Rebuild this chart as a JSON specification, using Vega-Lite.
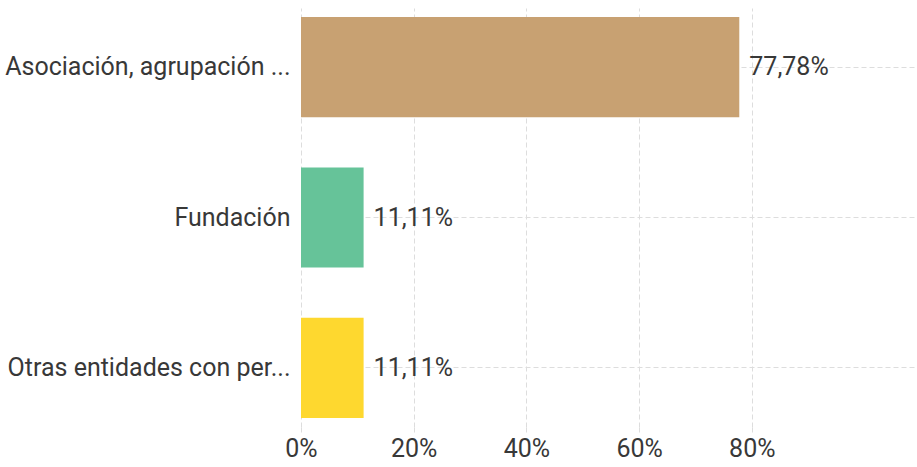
{
  "$schema": "https://vega.github.io/schema/vega-lite/v6.json",
  "width": 615,
  "height": 419,
  "autosize": {"type": "none"},
  "padding": {"left": 301, "top": 8, "right": 1, "bottom": 40},
  "background": "white",
  "config": {
    "view": {"stroke": null},
    "font": "Roboto"
  },
  "data": {
    "values": [
      {"categoria": "Asociación, agrupación ...", "valor": 0.7778, "etiqueta": "77,78%"},
      {"categoria": "Fundación", "valor": 0.1111, "etiqueta": "11,11%"},
      {"categoria": "Otras entidades con per...", "valor": 0.1111, "etiqueta": "11,11%"}
    ]
  },
  "encoding": {
    "y": {
      "field": "categoria",
      "type": "nominal",
      "sort": null,
      "title": null,
      "scale": {"paddingInner": 0.3333, "paddingOuter": 0.06},
      "axis": {
        "domain": false,
        "ticks": false,
        "grid": true,
        "gridColor": "#dddddd",
        "gridDash": [5, 3],
        "gridWidth": 1,
        "labelFontSize": 25,
        "labelColor": "#383838",
        "labelPadding": 11,
        "labelLimit": 0
      }
    }
  },
  "layer": [
    {
      "mark": {"type": "bar"},
      "encoding": {
        "x": {
          "field": "valor",
          "type": "quantitative",
          "title": null,
          "scale": {"domain": [0, 1.0914], "nice": false},
          "axis": {
            "values": [0, 0.2, 0.4, 0.6, 0.8],
            "format": ".0%",
            "domain": false,
            "grid": true,
            "gridColor": "#dddddd",
            "gridDash": [5, 3],
            "ticks": true,
            "tickSize": 8,
            "tickColor": "#dddddd",
            "tickDash": [5, 3],
            "labelFlush": false,
            "labelFontSize": 25,
            "labelColor": "#383838",
            "labelPadding": 1
          }
        },
        "color": {
          "field": "categoria",
          "type": "nominal",
          "sort": null,
          "legend": null,
          "scale": {
            "domain": ["Asociación, agrupación ...", "Fundación", "Otras entidades con per..."],
            "range": ["#c8a172", "#66c399", "#fed82f"]
          }
        }
      }
    },
    {
      "mark": {"type": "text", "align": "left", "baseline": "middle", "dx": 10, "fontSize": 25, "color": "#383838"},
      "encoding": {
        "x": {"field": "valor", "type": "quantitative"},
        "text": {"field": "etiqueta"}
      }
    }
  ]
}
